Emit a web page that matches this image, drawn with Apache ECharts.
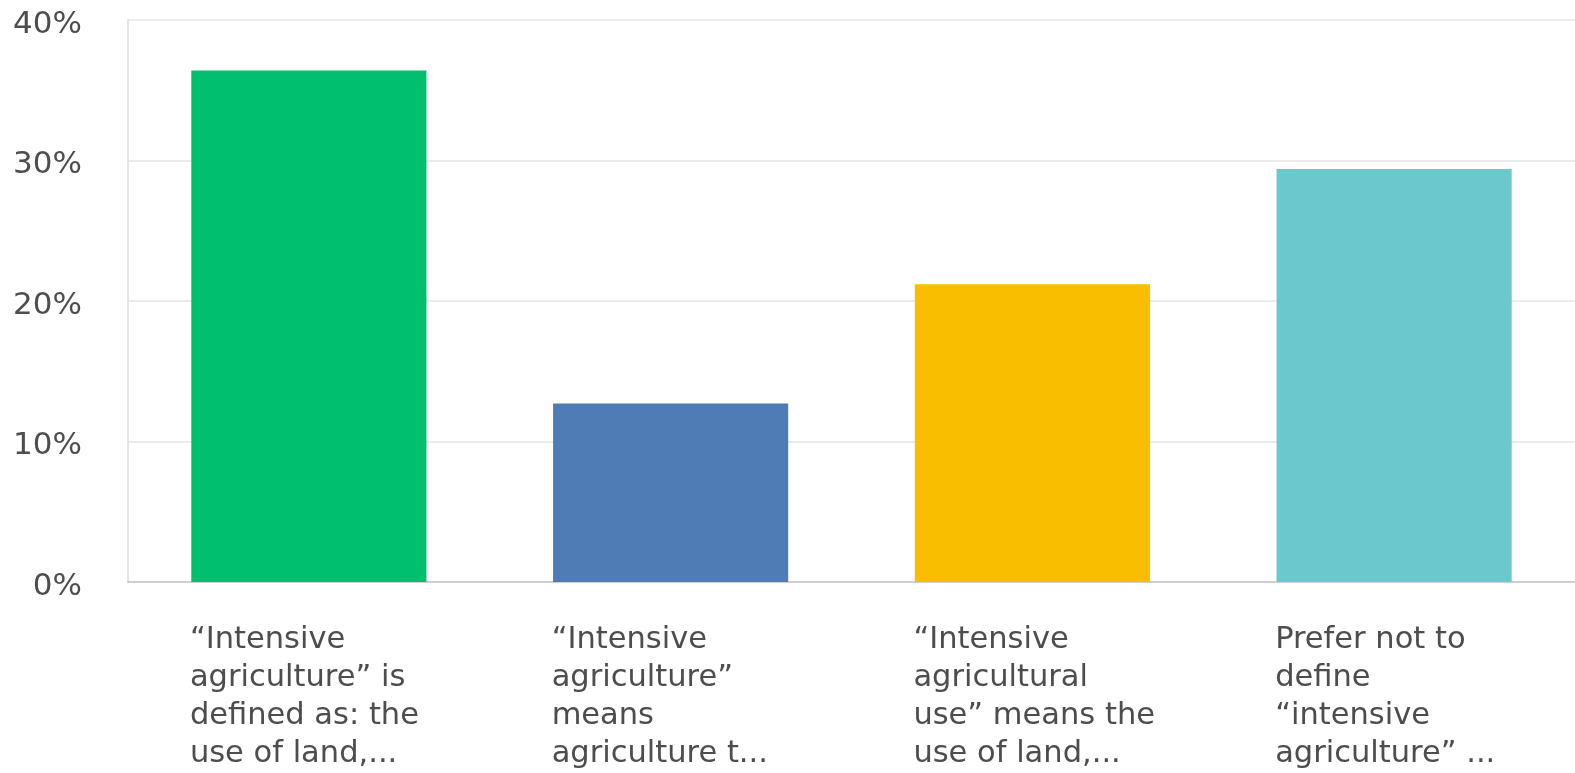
<!DOCTYPE html>
<html>
<head>
<meta charset="utf-8">
<script src="https://cdn.jsdelivr.net/npm/echarts@6/dist/echarts.min.js"></script>
<style>
html,body{margin:0;padding:0;background:#fff;}
#chart{width:1575px;height:773px;}
</style>
</head>
<body>
<div id="chart"></div>
<script>
const categories = [
  "\u201cIntensive\nagriculture\u201d is\ndefined as: the\nuse of land,...",
  "\u201cIntensive\nagriculture\u201d\nmeans\nagriculture t...",
  "\u201cIntensive\nagricultural\nuse\u201d means the\nuse of land,...",
  "Prefer not to\ndefine\n\u201cintensive\nagriculture\u201d ..."
];
const values = [36.4, 12.7, 21.2, 29.4];
const barColors = ["#00bf6f", "#507cb6", "#f9be00", "#6bc8cd"];
const yTicks = [0, 10, 20, 30, 40];

const chart = echarts.init(document.getElementById('chart'));
chart.setOption({
  animation: false,
  grid: { left: 128, right: -3, top: 20, bottom: 191, containLabel: false },
  xAxis: {
    type: 'category',
    data: categories,
    axisLine: { show: true, lineStyle: { color: '#cfcfcf', width: 2 } },
    axisTick: { show: false },
    axisLabel: {
      interval: 0,
      margin: 39,
      formatter: function (v) {
        return v.split('\n').map(function (l) { return '{a|' + l + '}'; }).join('\n');
      },
      rich: {
        a: {
          width: 238,
          align: 'left',
          fontFamily: 'DejaVu Sans',
          fontSize: 30.5,
          lineHeight: 38,
          color: '#4d4d4d'
        }
      }
    }
  },
  yAxis: {
    type: 'value',
    min: yTicks[0],
    max: yTicks[yTicks.length - 1],
    interval: 10,
    axisLine: { show: true, lineStyle: { color: '#e3e3e3', width: 2 } },
    axisTick: { show: false },
    splitLine: { lineStyle: { color: '#ebebeb', width: 2 } },
    axisLabel: {
      margin: 46,
      formatter: function (v) { return '{v|' + v + '%}'; },
      rich: {
        v: {
          padding: [9, 0, 0, 0],
          fontFamily: 'DejaVu Sans',
          fontSize: 31,
          color: '#4d4d4d'
        }
      }
    }
  },
  series: [{
    type: 'bar',
    barCategoryGap: '35%',
    data: values.map(function (v, i) { return { value: v, itemStyle: { color: barColors[i] } }; })
  }]
});
</script>
</body>
</html>
